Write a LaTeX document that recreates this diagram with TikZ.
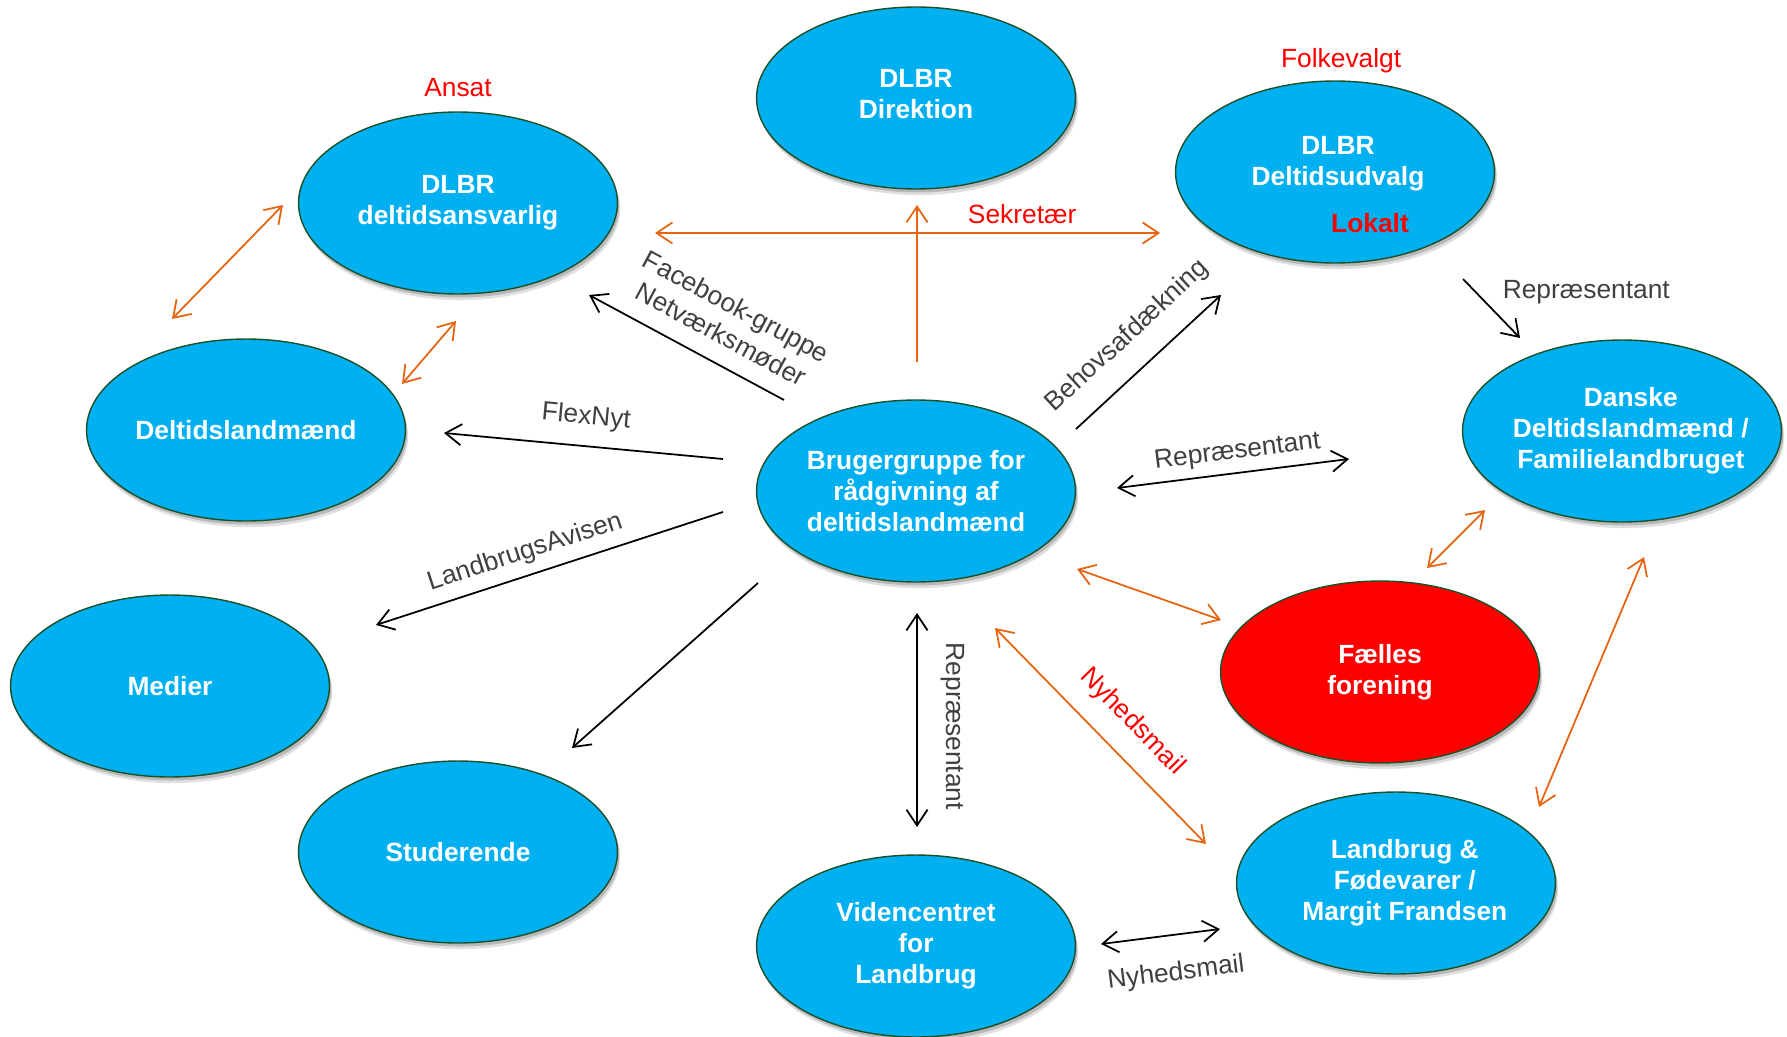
\documentclass[tikz,border=0pt]{standalone}
\usepackage{fontspec}
\setmainfont{Liberation Sans}
\usetikzlibrary{shapes.geometric,arrows.meta,shadows,positioning}

\definecolor{nodeblue}{RGB}{0,176,240}
\definecolor{nodered}{RGB}{255,0,0}
\definecolor{rim}{RGB}{30,80,40}
\definecolor{linkorange}{RGB}{230,100,16}
\definecolor{textgray}{RGB}{64,64,64}

\tikzset{
	etxt/.style={align=center, text=white, font=\fontsize{15}{17.6}\selectfont\bfseries},
	ell/.style={ellipse, etxt, draw=rim, line width=0.8pt, fill=nodeblue,
		minimum width=6.38cm, minimum height=3.64cm, inner sep=0pt, inner xsep=-1cm,
		drop shadow={shadow xshift=1.5pt, shadow yshift=-3.5pt, opacity=.12, fill=black},
		drop shadow={shadow xshift=1pt, shadow yshift=-2pt, opacity=.18, fill=black}},
	lbl/.style={text=textgray, inner sep=0pt, font=\fontsize{15}{18}\selectfont},
	rlbl/.style={lbl, text=red},
	oarr/.style={draw=linkorange, line width=1pt},
	barr/.style={draw=black, line width=1pt},
}

\begin{document}
\begin{tikzpicture}[x=0.02cm, y=-0.02cm, >={Straight Barb[length=9pt,width=12pt]}]
	\useasboundingbox (0,0) rectangle (1787,1037);

	%% Ellipser
	\node[ell, label={[etxt, yshift=2pt]center:{DLBR\\Direktion}}] (dir) at (916,98) {};
	\node[ell] (ans) at (458,203) {DLBR\\deltidsansvarlig};
	\node[ell] (udv) at (1335,172) {};
	\node[etxt] (udvtxt) at (1338,164) {DLBR\\Deltidsudvalg};
	\node[etxt, text=red] (lokalt) at (1370,223) {Lokalt};
	\node[ell] (dlm) at (246,430) {Deltidslandmænd};
	\node[ell] (hub) at (916,491) {Brugergruppe for\\rådgivning af\\deltidslandmænd};
	\node[ell, label={[etxt, xshift=5pt]center:{Danske\\Deltidslandmænd /\\Familielandbruget}}] (dan) at (1622,431) {};
	\node[ell] (med) at (170,686) {Medier};
	\node[ell, fill=nodered] (fael) at (1380,672) {Fælles\\forening};
	\node[ell] (stud) at (458,852) {Studerende};
	\node[ell] (vid) at (916,946) {Videncentret\\for\\Landbrug};
	\node[ell, label={[etxt, xshift=5pt]center:{Landbrug \&\\Fødevarer /\\Margit Frandsen}}] (lf) at (1396,883) {};

	\node[rlbl] (ansat) [above=8pt of ans] {Ansat};
	\node[rlbl, xshift=3.5pt] (folk) [above=4pt of udv] {Folkevalgt};

	%% Endepunkter
	\coordinate (ad1) at (283,205);   \coordinate (ad2) at (172,319);
	\coordinate (ad3) at (456,321);   \coordinate (ad4) at (402,384);
	\coordinate (hd1) at (917,362);   \coordinate (hd2) at (917,205);
	\coordinate (sk1) at (655,233);   \coordinate (sk2) at (1160,233);
	\coordinate (ny1) at (995,628);   \coordinate (ny2) at (1206,844);
	\coordinate (hf1) at (1077,569);  \coordinate (hf2) at (1221,620);
	\coordinate (df1) at (1485,510);  \coordinate (df2) at (1427,568);
	\coordinate (dl1) at (1644,557);  \coordinate (dl2) at (1539,807);
	\coordinate (fb1) at (784,400);   \coordinate (fb2) at (589,295);
	\coordinate (fx1) at (723,459);   \coordinate (fx2) at (444,433);
	\coordinate (la1) at (723,512);   \coordinate (la2) at (376,625);
	\coordinate (st1) at (758,583);   \coordinate (st2) at (572,748);
	\coordinate (rv1) at (917,613);   \coordinate (rv2) at (917,827);
	\coordinate (bh1) at (1076,429);  \coordinate (bh2) at (1221,295);
	\coordinate (rp1) at (1117,488);  \coordinate (rp2) at (1349,459);
	\coordinate (ud1) at (1463,279);  \coordinate (ud2) at (1520,338);
	\coordinate (vl1) at (1101,944);  \coordinate (vl2) at (1220,929);

	%% Orange pile
	\draw[oarr, <->] (ad1) -- (ad2);
	\draw[oarr, <->] (ad3) -- (ad4);
	\draw[oarr, ->] (hd1) -- (hd2);
	\draw[oarr, <->] (sk1) -- (sk2) node[rlbl, pos=.727, above=4.5pt] {Sekretær};
	\draw[oarr, <->] (ny1) -- (ny2) node[rlbl, sloped, pos=.54, above=11pt] {Nyhedsmail};
	\draw[oarr, <->] (hf1) -- (hf2);
	\draw[oarr, <->] (df1) -- (df2);
	\draw[oarr, <->] (dl1) -- (dl2);

	%% Sorte pile
	\draw[barr, <-] (fb2) -- (fb1) node[lbl, sloped, pos=.61, above=10pt, align=center] {Facebook-gruppe\\Netværksmøder};
	\draw[barr, <-] (fx2) -- (fx1) node[lbl, sloped, midway, above=9pt] {FlexNyt};
	\draw[barr, <-] (la2) -- (la1) node[lbl, sloped, pos=.45, above=5.5pt] {LandbrugsAvisen};
	\draw[barr, ->] (st1) -- (st2);
	\draw[barr, <->] (rv1) -- (rv2) node[lbl, sloped, pos=.53, above=13pt] {Repræsentant};
	\draw[barr, ->] (bh1) -- (bh2) node[lbl, sloped, pos=.51, above=11.5pt] {Behovsafdækning};
	\draw[barr, <->] (rp1) -- (rp2) node[lbl, sloped, pos=.53, above=4.5pt] {Repræsentant};
	\draw[barr, ->] (ud1) -- (ud2) node[lbl, pos=.22, right=15pt] {Repræsentant};
	\draw[barr, <->] (vl1) -- (vl2) node[lbl, sloped, pos=.59, below=14.5pt] {Nyhedsmail};
\end{tikzpicture}
\end{document}
